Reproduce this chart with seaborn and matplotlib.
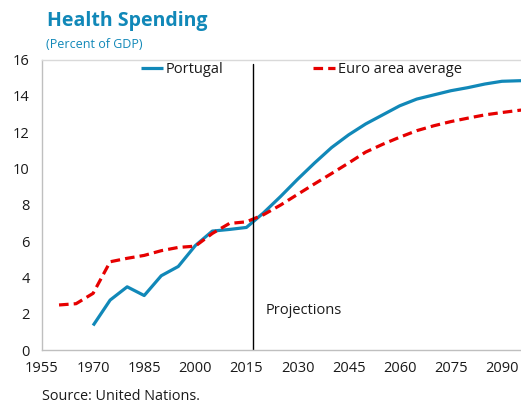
import matplotlib
matplotlib.use("Agg")
import matplotlib.pyplot as plt
import seaborn as sns
import pandas as pd

# Data
pt_years = [1970, 1975, 1980, 1985, 1990, 1995, 2000, 2005, 2010, 2015,
            2020, 2025, 2030, 2035, 2040, 2045, 2050, 2055, 2060, 2065,
            2070, 2075, 2080, 2085, 2090, 2095, 2100]
pt_values = [1.35, 2.75, 3.48, 3.0, 4.09, 4.6, 5.75, 6.55, 6.64, 6.75,
             7.55, 8.45, 9.4, 10.3, 11.15, 11.85, 12.45, 12.95, 13.45, 13.82,
             14.05, 14.28, 14.45, 14.65, 14.8, 14.83, 14.85]
ea_years = [1960, 1965, 1970, 1975, 1980, 1985, 1990, 1995, 2000, 2005,
            2010, 2015, 2020, 2025, 2030, 2035, 2040, 2045, 2050, 2055,
            2060, 2065, 2070, 2075, 2080, 2085, 2090, 2095, 2100]
ea_values = [2.48, 2.55, 3.12, 4.86, 5.05, 5.21, 5.47, 5.65, 5.72, 6.42,
             6.97, 7.06, 7.45, 7.98, 8.57, 9.15, 9.72, 10.3, 10.9, 11.33,
             11.72, 12.08, 12.35, 12.58, 12.77, 12.95, 13.08, 13.2, 13.3]
x_ticks = [1955, 1970, 1985, 2000, 2015, 2030, 2045, 2060, 2075, 2090]
y_ticks = [0, 2, 4, 6, 8, 10, 12, 14, 16]
projection_year = 2017

sns.set_style("white")
plt.rcParams['font.family'] = ['Open Sans', 'DejaVu Sans']

BLUE = "#1188b8"
RED = "#e60000"
GRAY = "#bfbfbf"

fig = plt.figure(figsize=(5.21, 4.07), dpi=100)
ax = fig.add_axes([42/521, 1 - 350/407, 1 - 42/521, (350 - 59.5)/407])

pt = pd.DataFrame({"year": pt_years, "value": pt_values})
ea = pd.DataFrame({"year": ea_years, "value": ea_values})

sns.lineplot(data=pt, x="year", y="value", ax=ax, color=BLUE, lw=2.3,
             label="Portugal", solid_capstyle="butt")
sns.lineplot(data=ea, x="year", y="value", ax=ax, color=RED, lw=2.3,
             label="Euro area average", dashes=False)
ax.lines[-1].set_linestyle((0, (3.0, 1.6)))

ax.axvline(projection_year, ymin=0, ymax=0.985, color="black", lw=1)
ax.text(2020.5, 2.15, "Projections", fontsize=10.5, va="center", ha="left",
        color="#1a1a1a")

ax.set_xlim(1955, 2095.6)
ax.set_ylim(0, 16)
ax.set_xticks(x_ticks)
ax.set_yticks(y_ticks)
ax.set_xlabel("")
ax.set_ylabel("")

for side in ["left", "bottom"]:
    ax.spines[side].set_color(GRAY)
    ax.spines[side].set_linewidth(1)
ax.spines["top"].set_color("#d9d9d9")
ax.spines["top"].set_linewidth(1)
ax.spines["right"].set_visible(False)

ax.tick_params(axis="both", direction="in", length=4, color=GRAY,
               labelsize=10.5, labelcolor="#1a1a1a")
ax.tick_params(axis="y", pad=9)
ax.tick_params(axis="x", pad=8)

leg = ax.legend(loc="upper left", bbox_to_anchor=(0.195, 1.01), ncol=2,
                frameon=False, fontsize=10.5, handlelength=1.5,
                handletextpad=0.2, columnspacing=6.1, borderaxespad=0)
for t in leg.get_texts():
    t.set_color("#1a1a1a")

fig.text(47/521, 1 - 21/407, "Health Spending", fontsize=14, fontweight="bold",
         color=BLUE, va="center", ha="left")
fig.text(46/521, 1 - 44/407, "(Percent of GDP)", fontsize=9,
         color=BLUE, va="center", ha="left")
fig.text(42/521, 1 - 397/407, "Source: United Nations.", fontsize=10.4,
         color="#1a1a1a", va="center", ha="left")

fig.savefig("out.png", dpi=100)
